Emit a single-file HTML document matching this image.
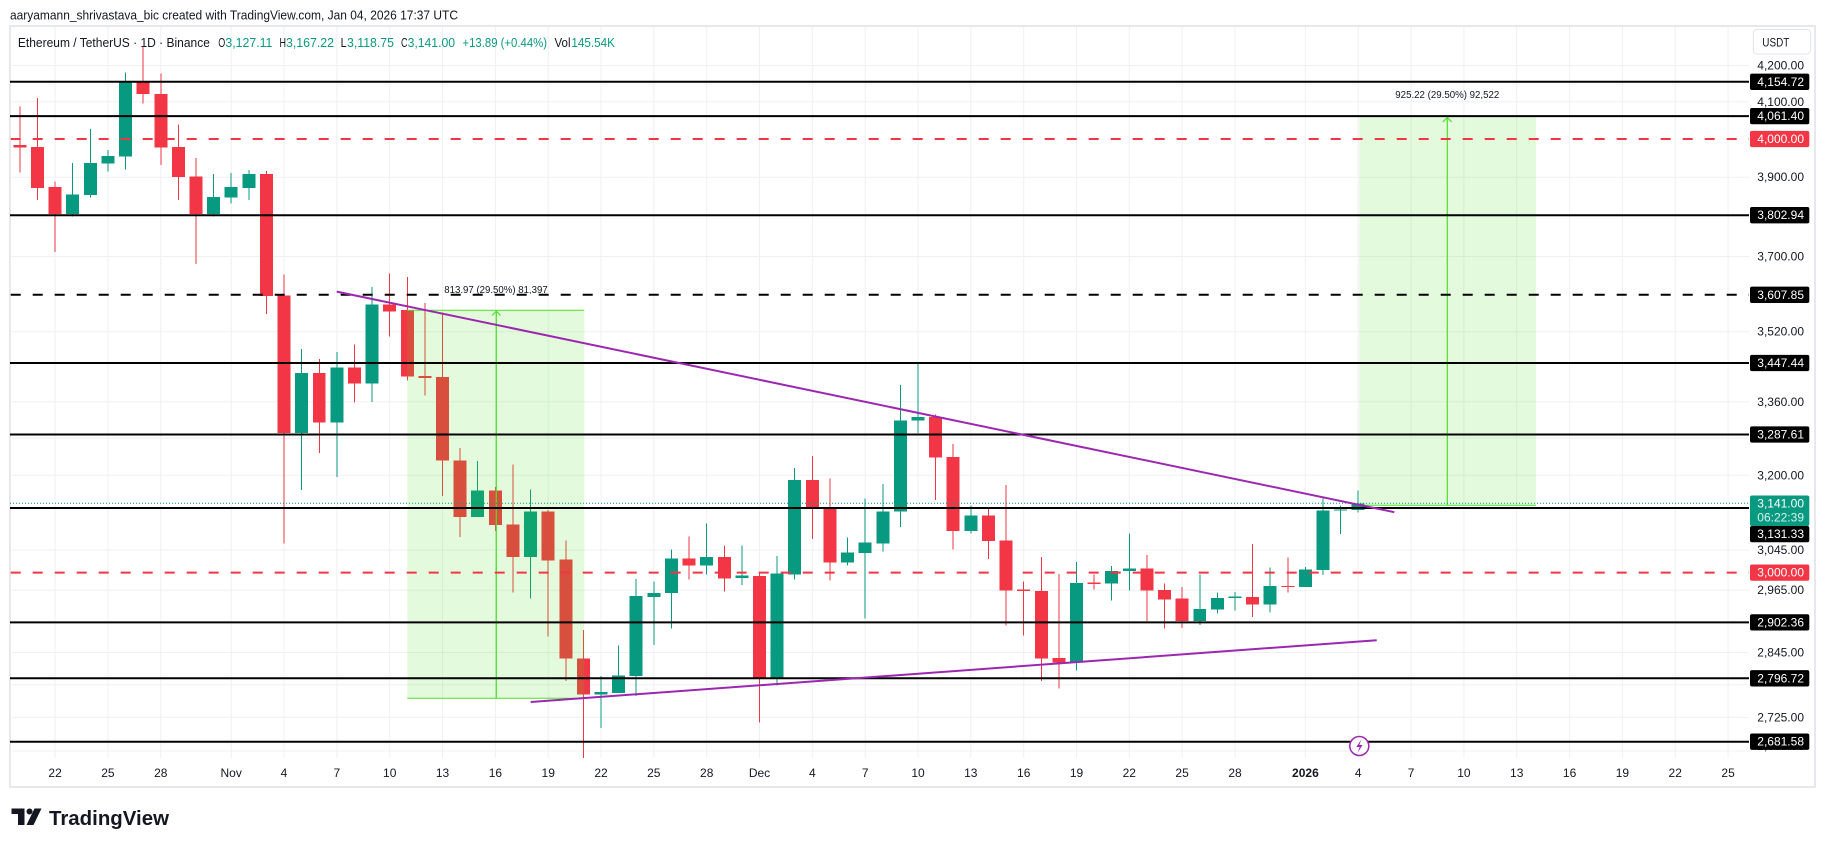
<!DOCTYPE html>
<html><head><meta charset="utf-8"><style>
html,body{margin:0;padding:0;background:#fff;}
svg{display:block;font-family:"Liberation Sans",Arial,sans-serif;}
</style></head><body>
<svg width="1825" height="847" viewBox="0 0 1825 847" xmlns="http://www.w3.org/2000/svg">
<rect x="0" y="0" width="1825" height="847" fill="#fff"/>
<!-- header -->
<text x="10" y="15" font-size="13" fill="#131722" dominant-baseline="central" textLength="448" lengthAdjust="spacingAndGlyphs">aaryamann_shrivastava_bic created with TradingView.com, Jan 04, 2026 17:37 UTC</text>
<!-- frame -->
<rect x="10" y="26" width="1805" height="761" fill="#fff" stroke="#e6e8ee" stroke-width="2"/>

<!-- vertical grid -->
<g stroke="#eef0f3" stroke-width="1">
<line x1="55.1" y1="27" x2="55.1" y2="758"/><line x1="107.9" y1="27" x2="107.9" y2="758"/><line x1="160.8" y1="27" x2="160.8" y2="758"/><line x1="231.2" y1="27" x2="231.2" y2="758"/><line x1="284" y1="27" x2="284" y2="758"/><line x1="336.9" y1="27" x2="336.9" y2="758"/><line x1="389.7" y1="27" x2="389.7" y2="758"/><line x1="442.5" y1="27" x2="442.5" y2="758"/><line x1="495.4" y1="27" x2="495.4" y2="758"/><line x1="548.2" y1="27" x2="548.2" y2="758"/><line x1="601" y1="27" x2="601" y2="758"/><line x1="653.8" y1="27" x2="653.8" y2="758"/><line x1="706.7" y1="27" x2="706.7" y2="758"/><line x1="759.5" y1="27" x2="759.5" y2="758"/><line x1="812.3" y1="27" x2="812.3" y2="758"/><line x1="865.2" y1="27" x2="865.2" y2="758"/><line x1="918" y1="27" x2="918" y2="758"/><line x1="970.8" y1="27" x2="970.8" y2="758"/><line x1="1023.7" y1="27" x2="1023.7" y2="758"/><line x1="1076.5" y1="27" x2="1076.5" y2="758"/><line x1="1129.3" y1="27" x2="1129.3" y2="758"/><line x1="1182.1" y1="27" x2="1182.1" y2="758"/><line x1="1235" y1="27" x2="1235" y2="758"/><line x1="1305.4" y1="27" x2="1305.4" y2="758"/><line x1="1358.2" y1="27" x2="1358.2" y2="758"/><line x1="1411.1" y1="27" x2="1411.1" y2="758"/><line x1="1463.9" y1="27" x2="1463.9" y2="758"/><line x1="1516.7" y1="27" x2="1516.7" y2="758"/><line x1="1569.6" y1="27" x2="1569.6" y2="758"/><line x1="1622.4" y1="27" x2="1622.4" y2="758"/><line x1="1675.2" y1="27" x2="1675.2" y2="758"/><line x1="1728.1" y1="27" x2="1728.1" y2="758"/>
</g>
<!-- horizontal grid -->
<g stroke="#eef0f3" stroke-width="1">
<line x1="10" y1="65.5" x2="1749" y2="65.5"/><line x1="10" y1="101.8" x2="1749" y2="101.8"/><line x1="10" y1="177.2" x2="1749" y2="177.2"/><line x1="10" y1="256.5" x2="1749" y2="256.5"/><line x1="10" y1="331.7" x2="1749" y2="331.7"/><line x1="10" y1="401.8" x2="1749" y2="401.8"/><line x1="10" y1="438.1" x2="1749" y2="438.1"/><line x1="10" y1="475.3" x2="1749" y2="475.3"/><line x1="10" y1="550.1" x2="1749" y2="550.1"/><line x1="10" y1="590.2" x2="1749" y2="590.2"/><line x1="10" y1="652.5" x2="1749" y2="652.5"/><line x1="10" y1="684.7" x2="1749" y2="684.7"/><line x1="10" y1="717.4" x2="1749" y2="717.4"/><line x1="10" y1="751" x2="1749" y2="751"/>
</g>

<!-- legend -->
<g font-size="13" dominant-baseline="central">
<text x="17.9" y="42.3" fill="#131722" textLength="192" lengthAdjust="spacingAndGlyphs">Ethereum / TetherUS · 1D · Binance</text>
<text x="218.3" y="42.3" fill="#131722" textLength="7" lengthAdjust="spacingAndGlyphs">O</text>
<text x="225.4" y="42.3" fill="#089981" textLength="47" lengthAdjust="spacingAndGlyphs">3,127.11</text>
<text x="279.5" y="42.3" fill="#131722" textLength="6.5" lengthAdjust="spacingAndGlyphs">H</text>
<text x="286" y="42.3" fill="#089981" textLength="48" lengthAdjust="spacingAndGlyphs">3,167.22</text>
<text x="340.6" y="42.3" fill="#131722" textLength="6" lengthAdjust="spacingAndGlyphs">L</text>
<text x="347" y="42.3" fill="#089981" textLength="47" lengthAdjust="spacingAndGlyphs">3,118.75</text>
<text x="401" y="42.3" fill="#131722" textLength="6.5" lengthAdjust="spacingAndGlyphs">C</text>
<text x="407.6" y="42.3" fill="#089981" textLength="47.4" lengthAdjust="spacingAndGlyphs">3,141.00</text>
<text x="462.5" y="42.3" fill="#089981" textLength="84.5" lengthAdjust="spacingAndGlyphs">+13.89 (+0.44%)</text>
<text x="554.5" y="42.3" fill="#131722" textLength="16" lengthAdjust="spacingAndGlyphs">Vol</text>
<text x="571.4" y="42.3" fill="#089981" textLength="43.6" lengthAdjust="spacingAndGlyphs">145.54K</text>
</g>

<!-- candles -->
<g transform="translate(55.1 37.5) scale(17.61 0.46115)" shape-rendering="crispEdges">
<g fill="#F23645">
<rect x="-2.028" y="150" width="0.0568" height="143"/><rect x="-2.369" y="233" width="0.738" height="6"/>
<rect x="-1.028" y="131" width="0.0568" height="221"/><rect x="-1.369" y="237" width="0.738" height="89"/>
<rect x="-0.028" y="312" width="0.0568" height="153"/><rect x="-0.369" y="324" width="0.738" height="59"/>
<rect x="4.972" y="20" width="0.0568" height="123"/><rect x="4.631" y="96" width="0.738" height="27"/>
<rect x="5.972" y="78" width="0.0568" height="198"/><rect x="5.631" y="122" width="0.738" height="117"/>
<rect x="6.972" y="189" width="0.0568" height="163"/><rect x="6.631" y="237" width="0.738" height="65"/>
<rect x="7.972" y="261" width="0.0568" height="230"/><rect x="7.631" y="301" width="0.738" height="82"/>
<rect x="11.972" y="290" width="0.0568" height="310"/><rect x="11.631" y="296" width="0.738" height="265"/>
<rect x="12.972" y="514" width="0.0568" height="583"/><rect x="12.631" y="560" width="0.738" height="298"/>
<rect x="14.972" y="697" width="0.0568" height="204"/><rect x="14.631" y="727" width="0.738" height="108"/>
<rect x="16.972" y="666" width="0.0568" height="126"/><rect x="16.631" y="716" width="0.738" height="34"/>
<rect x="18.972" y="512" width="0.0568" height="136"/><rect x="18.631" y="579" width="0.738" height="15"/>
<rect x="19.972" y="519" width="0.0568" height="225"/><rect x="19.631" y="591" width="0.738" height="144"/>
<rect x="20.972" y="576" width="0.0568" height="200"/><rect x="20.631" y="734" width="0.738" height="4"/>
<rect x="21.972" y="596" width="0.0568" height="398"/><rect x="21.631" y="736" width="0.738" height="181"/>
<rect x="22.972" y="890" width="0.0568" height="193"/><rect x="22.631" y="917" width="0.738" height="123"/>
<rect x="24.972" y="975" width="0.0568" height="95"/><rect x="24.631" y="982" width="0.738" height="75"/>
<rect x="25.972" y="926" width="0.0568" height="277"/><rect x="25.631" y="1056" width="0.738" height="71"/>
<rect x="27.972" y="1025" width="0.0568" height="274"/><rect x="27.631" y="1028" width="0.738" height="106"/>
<rect x="28.972" y="1091" width="0.0568" height="304"/><rect x="28.631" y="1132" width="0.738" height="215"/>
<rect x="29.972" y="1285" width="0.0568" height="277"/><rect x="29.631" y="1347" width="0.738" height="78"/>
<rect x="35.972" y="1082" width="0.0568" height="93"/><rect x="35.631" y="1130" width="0.738" height="15"/>
<rect x="37.972" y="1102" width="0.0568" height="99"/><rect x="37.631" y="1126" width="0.738" height="47"/>
<rect x="39.972" y="1160" width="0.0568" height="325"/><rect x="39.631" y="1168" width="0.738" height="222"/>
<rect x="42.972" y="908" width="0.0568" height="180"/><rect x="42.631" y="960" width="0.738" height="58"/>
<rect x="43.972" y="956" width="0.0568" height="222"/><rect x="43.631" y="1018" width="0.738" height="120"/>
<rect x="49.972" y="818" width="0.0568" height="185"/><rect x="49.631" y="823" width="0.738" height="88"/>
<rect x="50.972" y="882" width="0.0568" height="228"/><rect x="50.631" y="910" width="0.738" height="160"/>
<rect x="52.972" y="1020" width="0.0568" height="111"/><rect x="52.631" y="1037" width="0.738" height="55"/>
<rect x="53.972" y="970" width="0.0568" height="305"/><rect x="53.631" y="1091" width="0.738" height="108"/>
<rect x="54.972" y="1180" width="0.0568" height="117"/><rect x="54.631" y="1197" width="0.738" height="3"/>
<rect x="55.972" y="1126" width="0.0568" height="269"/><rect x="55.631" y="1200" width="0.738" height="147"/>
<rect x="56.972" y="1163" width="0.0568" height="249"/><rect x="56.631" y="1346" width="0.738" height="9"/>
<rect x="58.972" y="1165" width="0.0568" height="32"/><rect x="58.631" y="1182" width="0.738" height="3"/>
<rect x="61.972" y="1122" width="0.0568" height="143"/><rect x="61.631" y="1151" width="0.738" height="48"/>
<rect x="62.972" y="1184" width="0.0568" height="98"/><rect x="62.631" y="1198" width="0.738" height="21"/>
<rect x="63.972" y="1192" width="0.0568" height="88"/><rect x="63.631" y="1217" width="0.738" height="48"/>
<rect x="67.972" y="1098" width="0.0568" height="159"/><rect x="67.631" y="1213" width="0.738" height="16"/>
<rect x="69.972" y="1128" width="0.0568" height="75"/><rect x="69.631" y="1189" width="0.738" height="3"/>
</g>
<g fill="#089981">
<rect x="0.972" y="272" width="0.0568" height="116"/><rect x="0.631" y="340" width="0.738" height="43"/>
<rect x="1.972" y="198" width="0.0568" height="149"/><rect x="1.631" y="272" width="0.738" height="69"/>
<rect x="2.972" y="244" width="0.0568" height="47"/><rect x="2.631" y="257" width="0.738" height="16"/>
<rect x="3.972" y="76" width="0.0568" height="210"/><rect x="3.631" y="96" width="0.738" height="162"/>
<rect x="8.972" y="296" width="0.0568" height="92"/><rect x="8.631" y="346" width="0.738" height="37"/>
<rect x="9.972" y="294" width="0.0568" height="66"/><rect x="9.631" y="324" width="0.738" height="23"/>
<rect x="10.972" y="287" width="0.0568" height="65"/><rect x="10.631" y="296" width="0.738" height="30"/>
<rect x="13.972" y="675" width="0.0568" height="306"/><rect x="13.631" y="727" width="0.738" height="131"/>
<rect x="15.972" y="682" width="0.0568" height="271"/><rect x="15.631" y="716" width="0.738" height="119"/>
<rect x="17.972" y="541" width="0.0568" height="249"/><rect x="17.631" y="579" width="0.738" height="171"/>
<rect x="23.972" y="918" width="0.0568" height="122"/><rect x="23.631" y="982" width="0.738" height="58"/>
<rect x="26.972" y="980" width="0.0568" height="237"/><rect x="26.631" y="1028" width="0.738" height="99"/>
<rect x="30.972" y="1385" width="0.0568" height="112"/><rect x="30.631" y="1419" width="0.738" height="6"/>
<rect x="31.972" y="1318" width="0.0568" height="103"/><rect x="31.631" y="1383" width="0.738" height="38"/>
<rect x="32.972" y="1174" width="0.0568" height="254"/><rect x="32.631" y="1211" width="0.738" height="174"/>
<rect x="33.972" y="1180" width="0.0568" height="137"/><rect x="33.631" y="1205" width="0.738" height="8"/>
<rect x="34.972" y="1110" width="0.0568" height="172"/><rect x="34.631" y="1130" width="0.738" height="75"/>
<rect x="36.972" y="1054" width="0.0568" height="111"/><rect x="36.631" y="1126" width="0.738" height="19"/>
<rect x="38.972" y="1102" width="0.0568" height="85"/><rect x="38.631" y="1167" width="0.738" height="5"/>
<rect x="40.972" y="1124" width="0.0568" height="281"/><rect x="40.631" y="1162" width="0.738" height="228"/>
<rect x="41.972" y="934" width="0.0568" height="241"/><rect x="41.631" y="960" width="0.738" height="205"/>
<rect x="44.972" y="1084" width="0.0568" height="61"/><rect x="44.631" y="1117" width="0.738" height="21"/>
<rect x="45.972" y="1000" width="0.0568" height="260"/><rect x="45.631" y="1095" width="0.738" height="23"/>
<rect x="46.972" y="968" width="0.0568" height="147"/><rect x="46.631" y="1028" width="0.738" height="69"/>
<rect x="47.972" y="754" width="0.0568" height="308"/><rect x="47.631" y="830" width="0.738" height="198"/>
<rect x="48.972" y="706" width="0.0568" height="152"/><rect x="48.631" y="823" width="0.738" height="7"/>
<rect x="51.972" y="1015" width="0.0568" height="61"/><rect x="51.631" y="1037" width="0.738" height="33"/>
<rect x="57.972" y="1137" width="0.0568" height="236"/><rect x="57.631" y="1183" width="0.738" height="172"/>
<rect x="59.972" y="1146" width="0.0568" height="75"/><rect x="59.631" y="1157" width="0.738" height="27"/>
<rect x="60.972" y="1076" width="0.0568" height="123"/><rect x="60.631" y="1151" width="0.738" height="6"/>
<rect x="64.972" y="1165" width="0.0568" height="109"/><rect x="64.631" y="1239" width="0.738" height="26"/>
<rect x="65.972" y="1203" width="0.0568" height="46"/><rect x="65.631" y="1215" width="0.738" height="25"/>
<rect x="66.972" y="1202" width="0.0568" height="41"/><rect x="66.631" y="1212" width="0.738" height="3"/>
<rect x="68.972" y="1149" width="0.0568" height="98"/><rect x="68.631" y="1189" width="0.738" height="40"/>
<rect x="70.972" y="1148" width="0.0568" height="44"/><rect x="70.631" y="1154" width="0.738" height="38"/>
<rect x="71.972" y="1000" width="0.0568" height="166"/><rect x="71.631" y="1026" width="0.738" height="129"/>
<rect x="72.972" y="1015" width="0.0568" height="62"/><rect x="72.631" y="1023" width="0.738" height="3"/>
<rect x="73.972" y="982" width="0.0568" height="48"/><rect x="73.631" y="1010" width="0.738" height="15"/>
</g>
</g>

<!-- position tools (overlay) -->
<rect x="407.3" y="310.3" width="177" height="388" fill="rgba(68,228,22,0.15)"/>
<line x1="407.3" y1="310.3" x2="584.3" y2="310.3" stroke="#4ee02a" stroke-width="1"/>
<line x1="407.3" y1="698.3" x2="584.3" y2="698.3" stroke="#4ee02a" stroke-width="1"/>
<line x1="496.3" y1="311" x2="496.3" y2="698" stroke="#4ee02a" stroke-width="1.2"/>
<polyline points="492,315.5 496.3,311.2 500.6,315.5" fill="none" stroke="#4ee02a" stroke-width="1.2"/>

<rect x="1359.3" y="116.1" width="176.7" height="389" fill="rgba(68,228,22,0.15)"/>
<line x1="1359.3" y1="505.2" x2="1536" y2="505.2" stroke="#4ee02a" stroke-width="1"/>
<line x1="1447.3" y1="117.5" x2="1447.3" y2="505" stroke="#4ee02a" stroke-width="1.2"/>
<polyline points="1443,121.8 1447.3,117.5 1451.6,121.8" fill="none" stroke="#4ee02a" stroke-width="1.2"/>

<!-- level lines -->
<g stroke="#000" stroke-width="2">
<line x1="10" y1="81.8" x2="1749" y2="81.8"/>
<line x1="10" y1="116.1" x2="1749" y2="116.1"/>
<line x1="10" y1="215.2" x2="1749" y2="215.2"/>
<line x1="10" y1="363" x2="1749" y2="363"/>
<line x1="10" y1="434.5" x2="1749" y2="434.5"/>
<line x1="10" y1="508" x2="1749" y2="508"/>
<line x1="10" y1="622.4" x2="1749" y2="622.4"/>
<line x1="10" y1="678.3" x2="1749" y2="678.3"/>
<line x1="10" y1="741.7" x2="1749" y2="741.7"/>
<line x1="10.7" y1="294.8" x2="1749" y2="294.8" stroke-dasharray="10 12"/>
</g>
<g stroke="#F23645" stroke-width="2" stroke-dasharray="10 12">
<line x1="10.7" y1="139" x2="1749" y2="139"/>
<line x1="10.7" y1="572.6" x2="1749" y2="572.6"/>
</g>
<line x1="10" y1="503.3" x2="1749" y2="503.3" stroke="#089981" stroke-width="1" stroke-dasharray="1 2"/>

<!-- trendlines -->
<line x1="336.7" y1="291.6" x2="1394.3" y2="512.2" stroke="#9C27B0" stroke-width="2"/>
<line x1="530.7" y1="702" x2="1376.7" y2="640.2" stroke="#9C27B0" stroke-width="2"/>

<!-- position labels -->
<text x="496" y="290.7" font-size="10" fill="#131722" text-anchor="middle" dominant-baseline="central" textLength="103.4" lengthAdjust="spacingAndGlyphs">813.97 (29.50%) 81,397</text>
<text x="1447.3" y="95.6" font-size="10" fill="#131722" text-anchor="middle" dominant-baseline="central" textLength="104" lengthAdjust="spacingAndGlyphs">925.22 (29.50%) 92,522</text>

<!-- lightning icon -->
<circle cx="1359.3" cy="746" r="9.5" fill="#fff" stroke="#9C27B0" stroke-width="1.5"/>
<path d="M1361.3,739.5 L1356.3,747 L1359.6,747 L1357.6,752.8 L1362.6,745 L1359.3,745 Z" fill="#9C27B0"/>

<!-- price axis -->
<rect x="1753.3" y="29.4" width="57.4" height="24.7" rx="4" fill="#fff" stroke="#e0e3eb" stroke-width="1"/>
<text x="1762.3" y="42.3" font-size="12" fill="#131722" dominant-baseline="central" textLength="27" lengthAdjust="spacingAndGlyphs">USDT</text>
<g font-size="12" fill="#131722" text-anchor="end" dominant-baseline="central">
<text x="1804" y="65.5">4,200.00</text>
<text x="1804" y="101.8">4,100.00</text>
<text x="1804" y="177.2">3,900.00</text>
<text x="1804" y="256.5">3,700.00</text>
<text x="1804" y="331.7">3,520.00</text>
<text x="1804" y="401.8">3,360.00</text>
<text x="1804" y="475.3">3,200.00</text>
<text x="1804" y="550.1">3,045.00</text>
<text x="1804" y="590.2">2,965.00</text>
<text x="1804" y="652.5">2,845.00</text>
<text x="1804" y="680">2,785.00</text>
<text x="1804" y="717.4">2,725.00</text>
<text x="1804" y="746">2,665.00</text>
</g>
<g>
<rect x="1750" y="73.65" width="59.3" height="16.3" rx="2" fill="#000"/>
<rect x="1750" y="107.95" width="59.3" height="16.3" rx="2" fill="#000"/>
<rect x="1750" y="130.85" width="59.3" height="16.3" rx="2" fill="#F23645"/>
<rect x="1750" y="207.05" width="59.3" height="16.3" rx="2" fill="#000"/>
<rect x="1750" y="286.65" width="59.3" height="16.3" rx="2" fill="#000"/>
<rect x="1750" y="354.85" width="59.3" height="16.3" rx="2" fill="#000"/>
<rect x="1750" y="426.35" width="59.3" height="16.3" rx="2" fill="#000"/>
<rect x="1750" y="495.5" width="59.3" height="30.5" rx="2" fill="#089981"/>
<rect x="1750" y="526" width="59.3" height="16.3" rx="2" fill="#000"/>
<rect x="1750" y="564.45" width="59.3" height="16.3" rx="2" fill="#F23645"/>
<rect x="1750" y="614.25" width="59.3" height="16.3" rx="2" fill="#000"/>
<rect x="1750" y="670.15" width="59.3" height="16.3" rx="2" fill="#000"/>
<rect x="1750" y="733.55" width="59.3" height="16.3" rx="2" fill="#000"/>
</g>
<g font-size="12" fill="#fff" text-anchor="end" dominant-baseline="central">
<text x="1804" y="81.8">4,154.72</text>
<text x="1804" y="116.1">4,061.40</text>
<text x="1804" y="139">4,000.00</text>
<text x="1804" y="215.2">3,802.94</text>
<text x="1804" y="294.8">3,607.85</text>
<text x="1804" y="363">3,447.44</text>
<text x="1804" y="434.5">3,287.61</text>
<text x="1804" y="503.3">3,141.00</text>
<text x="1804" y="517.6" fill="#d8f0ea">06:22:39</text>
<text x="1804" y="534.2">3,131.33</text>
<text x="1804" y="572.6">3,000.00</text>
<text x="1804" y="622.4">2,902.36</text>
<text x="1804" y="678.3">2,796.72</text>
<text x="1804" y="741.7">2,681.58</text>
</g>

<!-- time axis -->
<g font-size="12" fill="#131722" text-anchor="middle" dominant-baseline="central">
<text x="55.1" y="773">22</text><text x="107.9" y="773">25</text><text x="160.8" y="773">28</text><text x="231.2" y="773">Nov</text><text x="284" y="773">4</text><text x="336.9" y="773">7</text><text x="389.7" y="773">10</text><text x="442.5" y="773">13</text><text x="495.4" y="773">16</text><text x="548.2" y="773">19</text><text x="601" y="773">22</text><text x="653.8" y="773">25</text><text x="706.7" y="773">28</text><text x="759.5" y="773">Dec</text><text x="812.3" y="773">4</text><text x="865.2" y="773">7</text><text x="918" y="773">10</text><text x="970.8" y="773">13</text><text x="1023.7" y="773">16</text><text x="1076.5" y="773">19</text><text x="1129.3" y="773">22</text><text x="1182.1" y="773">25</text><text x="1235" y="773">28</text><text x="1305.4" y="773" font-weight="bold">2026</text><text x="1358.2" y="773">4</text><text x="1411.1" y="773">7</text><text x="1463.9" y="773">10</text><text x="1516.7" y="773">13</text><text x="1569.6" y="773">16</text><text x="1622.4" y="773">19</text><text x="1675.2" y="773">22</text><text x="1728.1" y="773">25</text>
</g>

<!-- TradingView logo -->
<g fill="#131722">
<rect x="11.5" y="808.5" width="13" height="5.5"/>
<rect x="18" y="808.5" width="6.5" height="16.5"/>
<circle cx="29.5" cy="811.5" r="3"/>
<polygon points="34.5,808.5 41.5,808.5 33.5,825 26.5,825"/>
<text x="49" y="825" font-size="20" font-weight="bold" textLength="120" lengthAdjust="spacingAndGlyphs">TradingView</text>
</g>
</svg>
</body></html>
